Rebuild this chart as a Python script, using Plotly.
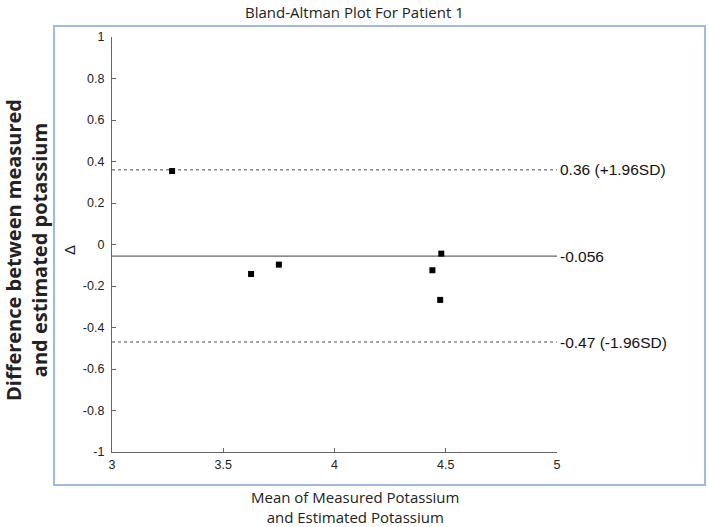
import plotly.graph_objects as go

# Data
mean_values = [3.27, 3.625, 3.75, 4.44, 4.48, 4.475]
diff_values = [0.354, -0.142, -0.097, -0.124, -0.044, -0.267]
bias = -0.056
upper_loa = 0.36
lower_loa = -0.47
x_range = [3, 5]
x_tick_vals = [3, 3.5, 4, 4.5, 5]
x_tick_text = ["3", "3.5", "4", "4.5", "5"]
y_tick_vals = [-1, -0.8, -0.6, -0.4, -0.2, 0, 0.2, 0.4, 0.6, 0.8, 1]
y_tick_text = ["-1", "-0.8", "-0.6", "-0.4", "-0.2", "0", "0.2", "0.4", "0.6", "0.8", "1"]
line_labels = ["0.36 (+1.96SD)", "-0.056", "-0.47 (-1.96SD)"]

fig = go.Figure()

# limit lines
fig.add_trace(go.Scatter(x=x_range, y=[upper_loa, upper_loa], mode="lines",
                         line=dict(color="#888888", width=1.5, dash="dot"),
                         showlegend=False, hoverinfo="skip"))
fig.add_trace(go.Scatter(x=x_range, y=[lower_loa, lower_loa], mode="lines",
                         line=dict(color="#888888", width=1.5, dash="dot"),
                         showlegend=False, hoverinfo="skip"))
fig.add_trace(go.Scatter(x=x_range, y=[bias, bias], mode="lines",
                         line=dict(color="#666666", width=1.2),
                         showlegend=False, hoverinfo="skip"))
# points
fig.add_trace(go.Scatter(x=mean_values, y=diff_values, mode="markers",
                         marker=dict(symbol="square", size=6, color="black"),
                         showlegend=False))

label_font = dict(family="Liberation Sans, Arial", size=15.5, color="#111111")
for yv, txt in zip([upper_loa, bias, lower_loa], line_labels):
    fig.add_annotation(x=1.0, xref="paper", y=yv, yref="y", text=txt,
                       showarrow=False, xanchor="left", yanchor="middle",
                       xshift=1, font=label_font)

# titles
fig.add_annotation(x=(354 - 112) / 445, xref="paper", y=(452 - 12) / 415, yref="paper",
                   text="Bland-Altman Plot For Patient 1", showarrow=False,
                   xanchor="center", yanchor="middle",
                   font=dict(family="Open Sans", size=15, color="#222222"))
fig.add_annotation(x=(355 - 112) / 445, xref="paper", y=(452 - 507) / 415, yref="paper",
                   text="Mean of Measured Potassium<br>and Estimated Potassium",
                   showarrow=False, xanchor="center", yanchor="middle",
                   font=dict(family="Open Sans", size=15, color="#222222"))
fig.add_annotation(x=(26 - 112) / 445, xref="paper", y=(452 - 250) / 415, yref="paper",
                   text="<b>Difference between measured<br>and estimated potassium</b>",
                   showarrow=False, textangle=-90, xanchor="center", yanchor="middle",
                   font=dict(family="Open Sans", size=20, color="#222222"))
fig.add_annotation(x=(69 - 112) / 445, xref="paper", y=(452 - 250) / 415, yref="paper",
                   text="Δ", showarrow=False, textangle=-90,
                   xanchor="center", yanchor="middle",
                   font=dict(family="Liberation Sans, Arial", size=15, color="#222222"))

# blue frame
fig.add_shape(type="rect", xref="paper", yref="paper",
              x0=(54 - 112) / 445, x1=(705 - 112) / 445,
              y0=(452 - 485) / 415, y1=(452 - 26) / 415,
              line=dict(color="#9fb9e3", width=2), fillcolor="rgba(0,0,0,0)", layer="below")

tick_font = dict(family="Liberation Sans, Arial", size=12.5, color="#222222")
fig.update_xaxes(range=x_range, tickvals=x_tick_vals, ticktext=x_tick_text,
                 showgrid=False, zeroline=False, showline=True, linecolor="#666666",
                 linewidth=1.2, ticks="inside", ticklen=4, tickcolor="#666666",
                 tickfont=tick_font, mirror=False, ticklabelstandoff=1)
fig.update_yaxes(range=[-1, 1], tickvals=y_tick_vals, ticktext=y_tick_text,
                 showgrid=False, zeroline=False, showline=True, linecolor="#666666",
                 linewidth=1.2, ticks="inside", ticklen=4, tickcolor="#666666",
                 tickfont=tick_font, mirror=False, ticklabelstandoff=4)

fig.update_layout(width=709, height=527,
                  margin=dict(l=112, r=152, t=37, b=75, autoexpand=False),
                  plot_bgcolor="white", paper_bgcolor="white",
                  showlegend=False)

fig.write_html("out.html", config={"displayModeBar": False},
               post_script="document.body.style.margin='0';document.body.style.overflow='hidden';")
